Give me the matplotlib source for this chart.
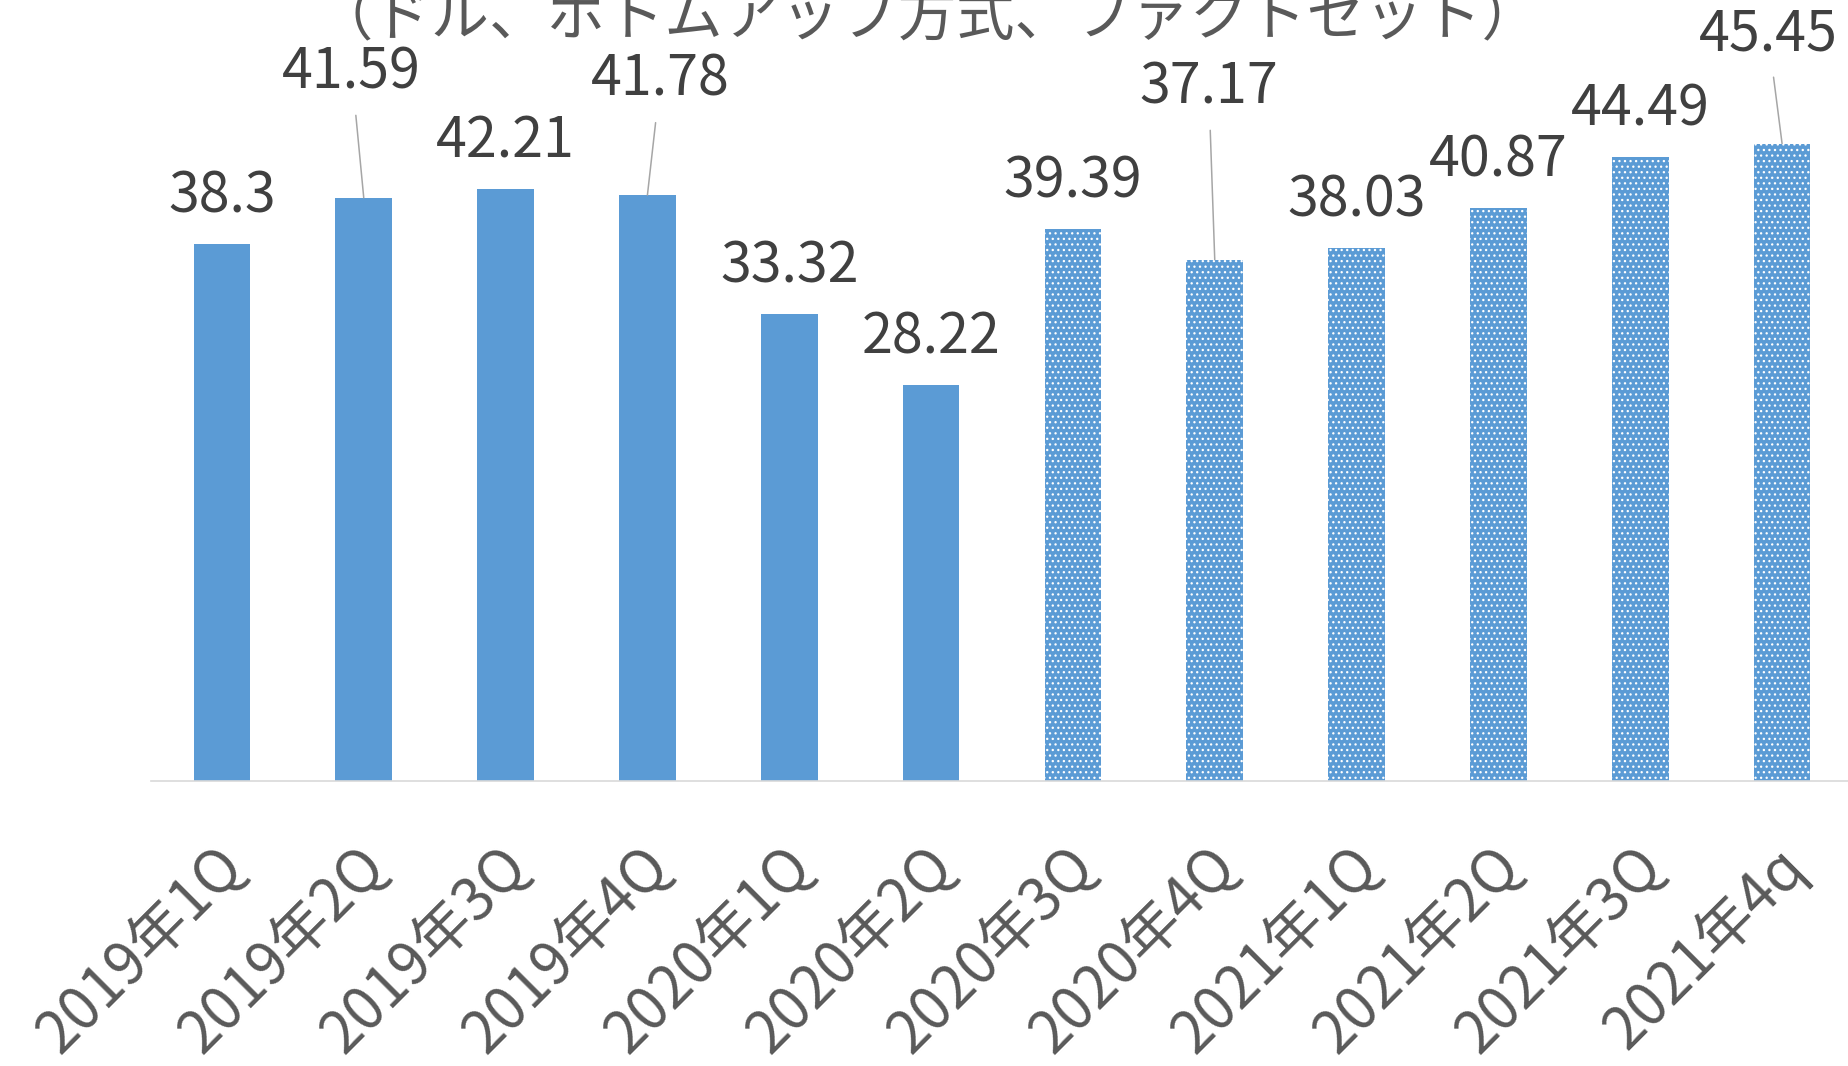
import matplotlib
matplotlib.use('Agg')
import matplotlib.pyplot as plt
import matplotlib.transforms as mtransforms
import numpy as np

plt.rcParams['font.family'] = ['Noto Sans CJK JP', 'DejaVu Sans']
plt.rcParams['hatch.linewidth'] = 0.9

# data
quarters = ['2019年1Q', '2019年2Q', '2019年3Q', '2019年4Q',
            '2020年1Q', '2020年2Q', '2020年3Q', '2020年4Q',
            '2021年1Q', '2021年2Q', '2021年3Q', '2021年4q']
values = [38.3, 41.59, 42.21, 41.78, 33.32, 28.22,
          39.39, 37.17, 38.03, 40.87, 44.49, 45.45]
is_estimate = [False] * 6 + [True] * 6
title = '（ドル、ボトムアップ方式、ファクトセット）'

# label offsets in pixels (dx, dy above bar top); the rest use the default
default_off = (0, 47)
moved_off = {1: (-12, 125), 3: (13, 115), 7: (-6, 172), 11: (-14, 109)}

blue = '#5b9bd5'
W, H, DPI = 1848, 1066, 100
fig = plt.figure(figsize=(W / DPI, H / DPI), dpi=DPI)
ax = fig.add_axes([151 / W, (H - 780.6) / H, (1853 - 151) / W, 780.6 / H])

x = np.arange(len(values))
for i in range(len(values)):
    if is_estimate[i]:
        ax.bar(x[i], values[i], width=0.4, color=blue, edgecolor='white',
               linewidth=0, hatch='...')
    else:
        ax.bar(x[i], values[i], width=0.4, color=blue, linewidth=0)

px = 72 / DPI
for i, v in enumerate(values):
    dx, dy = moved_off.get(i, default_off)
    kw = {}
    if i in moved_off:
        kw['arrowprops'] = dict(arrowstyle='-', color='#a6a6a6', lw=1.1,
                                shrinkA=8, shrinkB=0)
    ax.annotate(f'{v:g}', (x[i], v), xytext=(dx * px, dy * px),
                textcoords='offset points', ha='center', va='center',
                fontsize=40, color='#404040', annotation_clip=False, **kw)

ax.set_xlim(-0.5, 11.5)
ax.set_ylim(0, 55.7)
ax.set_yticks([])
ax.set_xticks(x)
ax.set_xticklabels(quarters, rotation=45, ha='right', va='center',
                   rotation_mode='anchor', fontsize=42, color='#595959')
ax.tick_params(axis='x', length=0, pad=55)
shift = mtransforms.ScaledTranslation(13 / DPI, 0, fig.dpi_scale_trans)
for lab in ax.get_xticklabels():
    lab.set_transform(lab.get_transform() + shift)

for s in ['top', 'left', 'right']:
    ax.spines[s].set_visible(False)
ax.spines['bottom'].set_color('#d9d9d9')
ax.spines['bottom'].set_linewidth(1.2)

fig.text(927 / W, 1 - 35 / H, title, ha='center', va='baseline',
         fontsize=42, color='#595959')

fig.savefig('out.png', dpi=DPI)
